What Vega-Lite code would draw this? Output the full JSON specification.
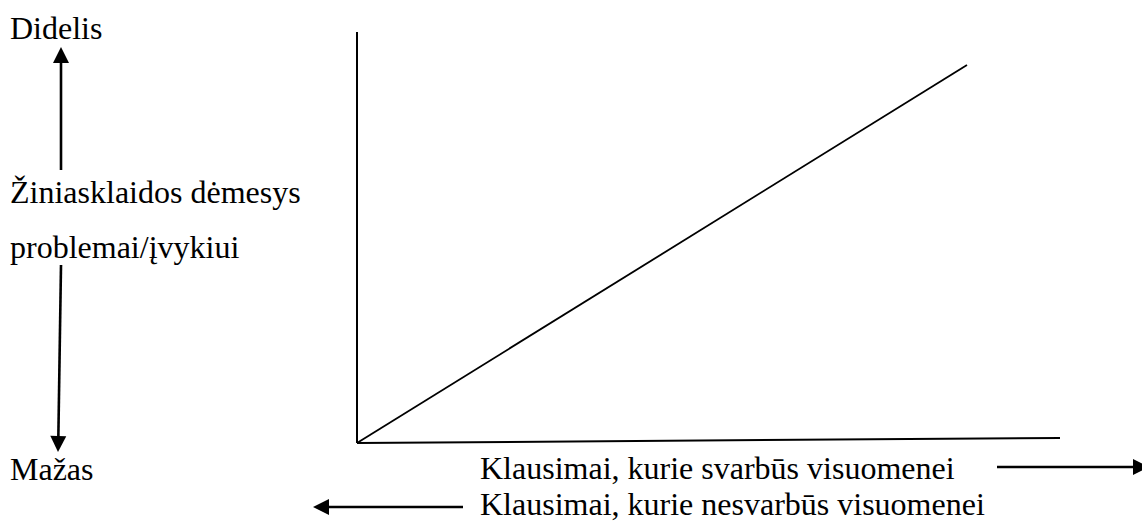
{
  "$schema": "https://vega.github.io/schema/vega-lite/v6.json",
  "width": 1142,
  "height": 521,
  "padding": 0,
  "autosize": {"type": "none"},
  "background": "white",
  "config": {"view": {"stroke": null}, "font": "Liberation Serif, 'Times New Roman', 'DejaVu Serif', serif"},
  "datasets": {
    "lines": [
      {"part": "y-axis", "x": 357, "y": 32, "x2": 357, "y2": 443, "w": 2},
      {"part": "x-axis", "x": 357, "y": 443, "x2": 1060, "y2": 438, "w": 2},
      {"part": "diagonal", "x": 357, "y": 443, "x2": 967, "y2": 65, "w": 1.8},
      {"part": "up", "x": 61, "y": 170, "x2": 61, "y2": 58, "w": 2.6},
      {"part": "down", "x": 61, "y": 265, "x2": 58.3, "y2": 440, "w": 2.6},
      {"part": "right", "x": 997, "y": 467, "x2": 1138, "y2": 467, "w": 2.6},
      {"part": "left", "x": 463, "y": 507, "x2": 325, "y2": 507, "w": 2.6}
    ],
    "heads": [
      {"part": "up", "x": 61, "y": 47, "angle": 0},
      {"part": "down", "x": 58, "y": 452, "angle": 181},
      {"part": "right", "x": 1149, "y": 467, "angle": 90},
      {"part": "left", "x": 313, "y": 507, "angle": 270}
    ],
    "labels": [
      {"text": "Didelis", "x": 10, "y": 39},
      {"text": "Žiniasklaidos dėmesys", "x": 10, "y": 203},
      {"text": "problemai/įvykiui", "x": 10, "y": 258},
      {"text": "Mažas", "x": 10, "y": 480},
      {"text": "Klausimai, kurie svarbūs visuomenei", "x": 480, "y": 479},
      {"text": "Klausimai, kurie nesvarbūs visuomenei", "x": 480, "y": 515}
    ]
  },
  "layer": [
    {
      "data": {"name": "lines"},
      "mark": {"type": "rule", "color": "black", "strokeCap": "butt"},
      "encoding": {
        "x": {"field": "x", "type": "quantitative", "scale": {"domain": [0, 1142], "nice": false, "zero": false}, "axis": null},
        "y": {"field": "y", "type": "quantitative", "scale": {"domain": [0, 521], "nice": false, "zero": false, "reverse": true}, "axis": null},
        "x2": {"field": "x2"},
        "y2": {"field": "y2"},
        "strokeWidth": {"field": "w", "type": "quantitative", "scale": null}
      }
    },
    {
      "data": {"name": "heads"},
      "mark": {"type": "point", "filled": true, "color": "black", "opacity": 1, "strokeWidth": 0, "size": 1024, "shape": "M0,0L0.5,1L-0.5,1Z"},
      "encoding": {
        "x": {"field": "x", "type": "quantitative"},
        "y": {"field": "y", "type": "quantitative"},
        "angle": {"field": "angle", "type": "quantitative", "scale": null}
      }
    },
    {
      "data": {"name": "labels"},
      "mark": {"type": "text", "align": "left", "baseline": "alphabetic", "font": "Liberation Serif, 'Times New Roman', 'DejaVu Serif', serif", "fontSize": 32, "color": "black"},
      "encoding": {
        "x": {"field": "x", "type": "quantitative"},
        "y": {"field": "y", "type": "quantitative"},
        "text": {"field": "text"}
      }
    }
  ]
}
